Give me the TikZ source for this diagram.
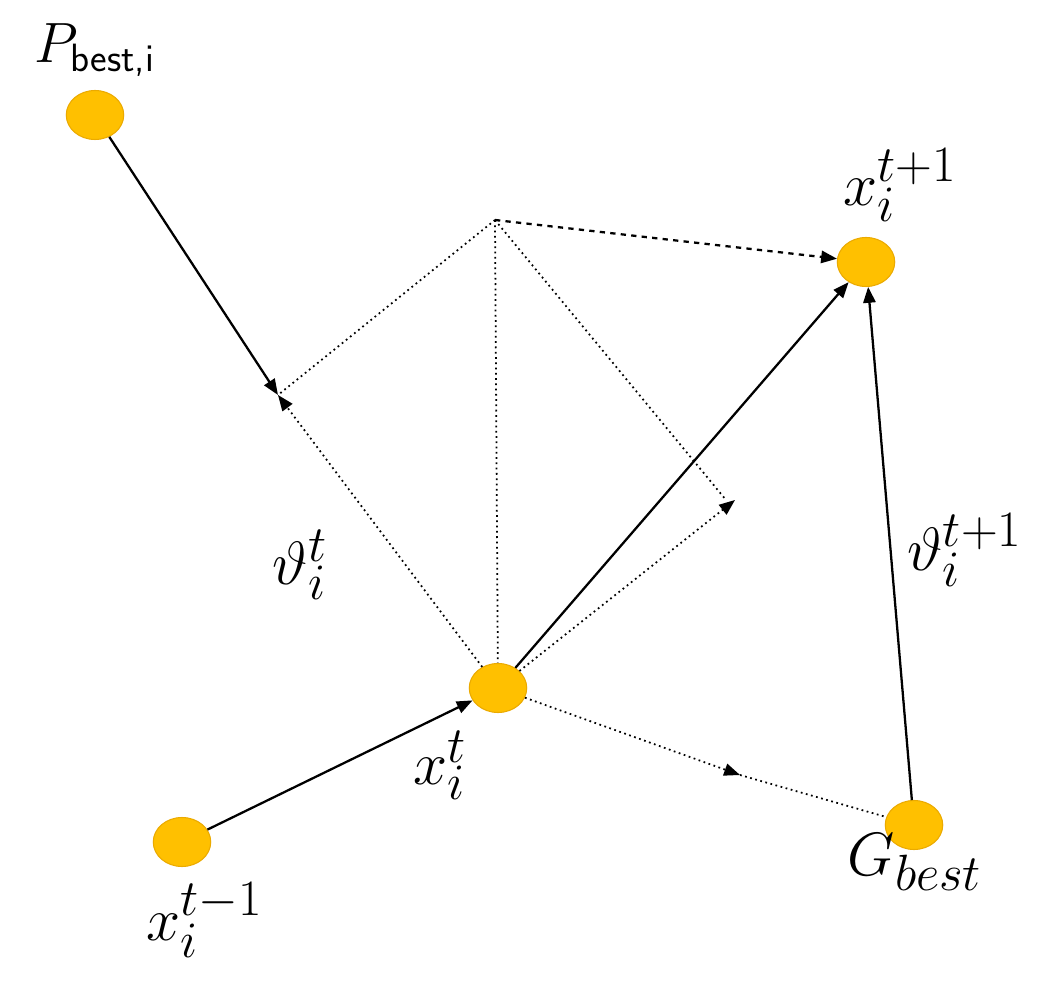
\documentclass[tikz,border=0pt]{standalone}
\usetikzlibrary{arrows.meta,shapes.geometric}
\definecolor{gold}{RGB}{255,192,0}
\definecolor{goldedge}{RGB}{235,170,0}
\begin{document}
\begin{tikzpicture}[x=0.02cm,y=-0.02cm,
  pt/.style={ellipse,minimum width=1.15cm,minimum height=0.98cm,fill=gold,draw=goldedge,line width=0.6pt,inner sep=0},
  sol/.style={line width=1.3pt,-{Triangle[length=9pt,width=7pt]}},
  dot/.style={line width=1pt,dotted},
  lab/.style={font=\Huge}]
\useasboundingbox (0,0) rectangle (1059,986);
\node[pt] (P) at (95,115) {};
\node[pt] (N) at (866,262) {};
\node[pt] (X) at (498,688) {};
\node[pt] (O) at (182,842) {};
\node[pt] (G) at (914,825) {};
\coordinate (T) at (495,220);
\coordinate (A) at (278,395);
\coordinate (B) at (735,500);
\coordinate (M) at (740,775);
% dotted
\draw[dot] (T) -- (A);
\draw[dot] (T) -- (X);
\draw[dot] (T) -- (726,500);
\draw[dot,-{Triangle[length=9pt,width=7pt]}] (X) -- (A);
\draw[dot,-{Triangle[length=9pt,width=7pt]}] (X) -- (B);
\draw[dot,-{Triangle[length=9pt,width=7pt]}] (X) -- (M);
\draw[dot] (M) -- (G);
% solid
\draw[sol] (P) -- (A);
\draw[sol] (O) -- (X);
\draw[sol] (X) -- (N);
\draw[sol] (G) -- (N);
\draw[line width=1.3pt,dashed,-{Triangle[length=9pt,width=7pt]}] (T) -- (N);
% labels
\node[lab] (lP) at (95,50) {\scalebox{1.3}{$P_{\textsf{\LARGE best,i}}$}};
\node[lab] (lN) at (900,185) {\scalebox{1.4}{$x_i^{t+1}$}};
\node[lab] (lX) at (440,765) {\scalebox{1.4}{$x_i^{t}$}};
\node[lab] (lO) at (205,920) {\scalebox{1.4}{$x_i^{t-1}$}};
\node[lab] (lG) at (915,862) {\scalebox{1.4}{$G_{best}$}};
\node[lab] (lv) at (300,565) {\scalebox{1.4}{$\vartheta_i^{t}$}};
\node[lab] (lv2) at (965,550) {\scalebox{1.4}{$\vartheta_i^{t+1}$}};
\end{tikzpicture}
\end{document}
